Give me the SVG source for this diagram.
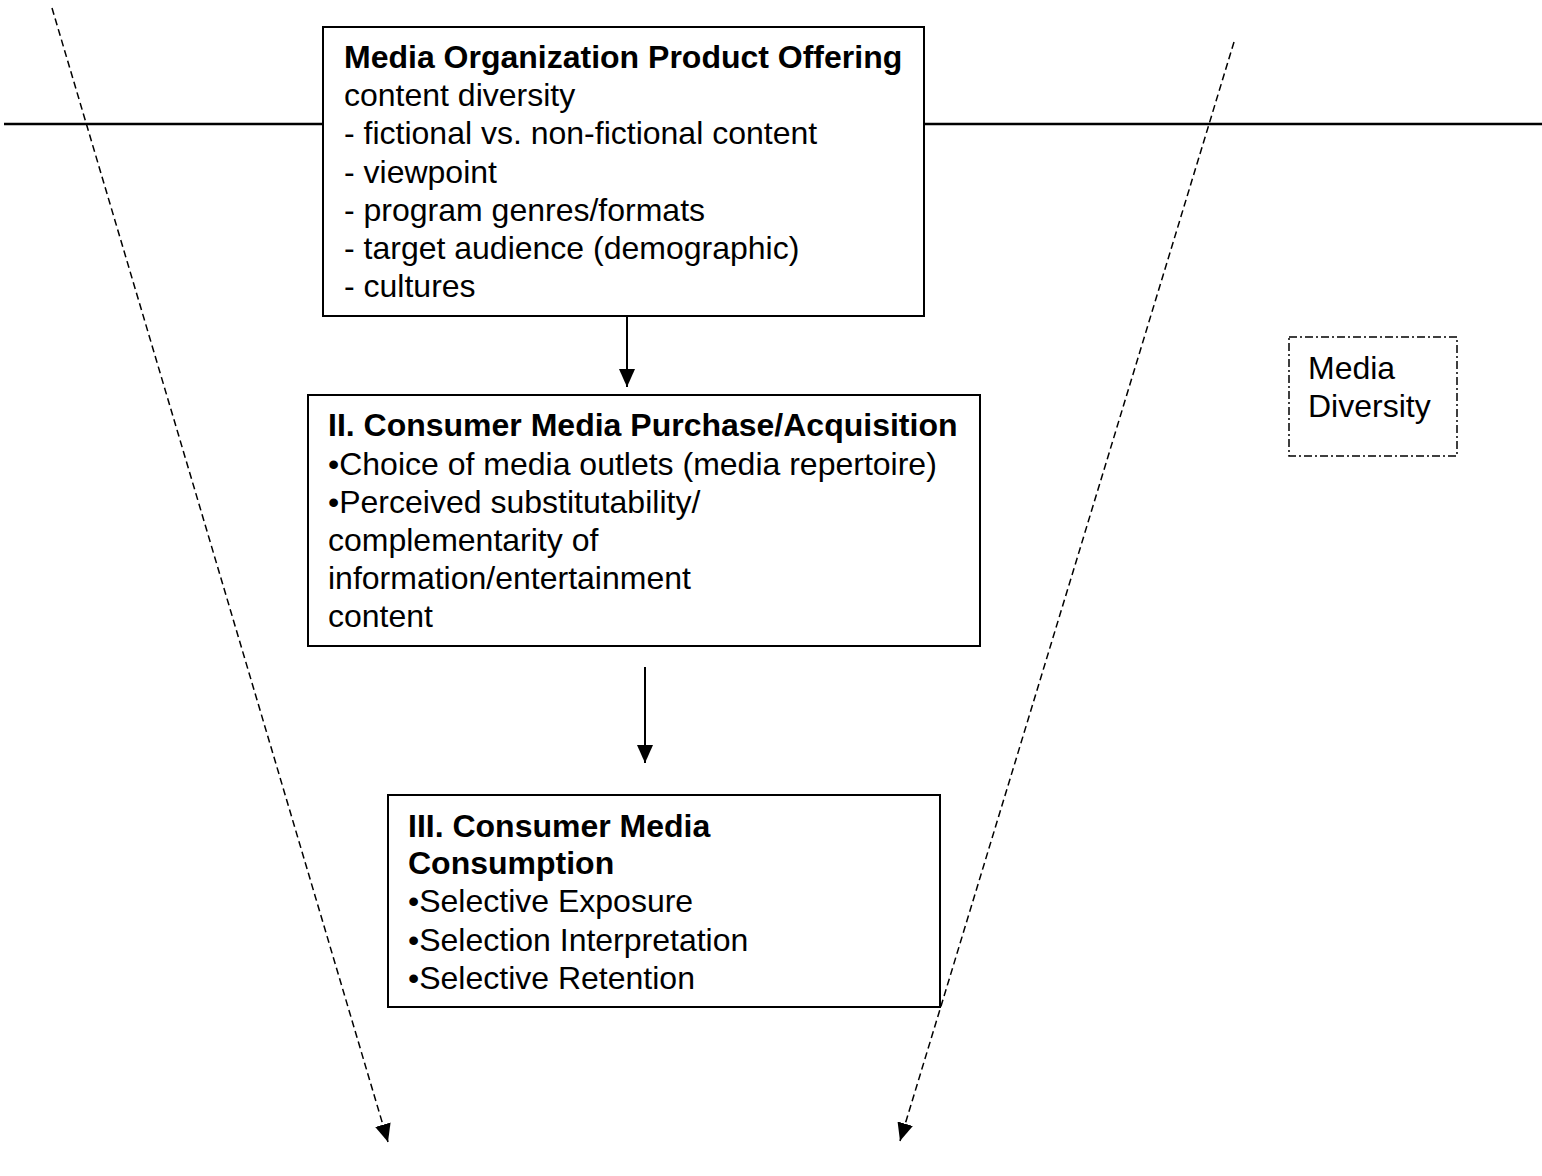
<svg xmlns="http://www.w3.org/2000/svg" width="1542" height="1176" viewBox="0 0 1542 1176">
<style>
text{font-family:"Liberation Sans",Arial,sans-serif;font-size:32px;fill:#000}
.b{font-weight:bold}
.box{fill:#fff;stroke:#000;stroke-width:2}
.dash{fill:none;stroke:#000;stroke-width:1.5;stroke-dasharray:7 4}
.arr{fill:none;stroke:#000;stroke-width:2}
</style>
<defs>
<marker id="ah" markerUnits="userSpaceOnUse" markerWidth="19" markerHeight="16" refX="18" refY="8" orient="auto">
<path d="M0,0 L18,8 L0,16 z" fill="#000"/>
</marker>
</defs>
<g id="connectors">
<line x1="4" y1="124" x2="1542" y2="124" stroke="#000" stroke-width="2.6"/>
<line class="dash" x1="52" y1="8" x2="388" y2="1142" marker-end="url(#ah)"/>
<line class="dash" x1="1234" y1="42" x2="900" y2="1141" marker-end="url(#ah)"/>
<line class="arr" x1="627" y1="317" x2="627" y2="387" marker-end="url(#ah)"/>
<line class="arr" x1="645" y1="667" x2="645" y2="763" marker-end="url(#ah)"/>
</g>
<g id="node-offering">
<rect class="box" x="323" y="27" width="601" height="289"/>
<text class="b" x="344" y="68">Media Organization Product Offering</text>
<text x="344" y="106">content diversity</text>
<text x="344" y="144">- fictional vs. non-fictional content</text>
<text x="344" y="183">- viewpoint</text>
<text x="344" y="221">- program genres/formats</text>
<text x="344" y="259">- target audience (demographic)</text>
<text x="344" y="297">- cultures</text>
</g>
<g id="node-purchase">
<rect class="box" x="308" y="395" width="672" height="251"/>
<text class="b" x="328" y="436">II. Consumer Media Purchase/Acquisition</text>
<text x="328" y="475">•Choice of media outlets (media repertoire)</text>
<text x="328" y="513">•Perceived substitutability/</text>
<text x="328" y="551">complementarity of</text>
<text x="328" y="589">information/entertainment</text>
<text x="328" y="627">content</text>
</g>
<g id="node-consumption">
<rect class="box" x="388" y="795" width="552" height="212"/>
<text class="b" x="408" y="837">III. Consumer Media</text>
<text class="b" x="408" y="874">Consumption</text>
<text x="408" y="912">•Selective Exposure</text>
<text x="408" y="951">•Selection Interpretation</text>
<text x="408" y="989">•Selective Retention</text>
</g>
<g id="node-diversity">
<rect x="1289" y="337" width="168" height="119" fill="#fff" stroke="#000" stroke-width="1.5" stroke-dasharray="8 3 2 3"/>
<text x="1308" y="379">Media</text>
<text x="1308" y="417">Diversity</text>
</g>
</svg>
